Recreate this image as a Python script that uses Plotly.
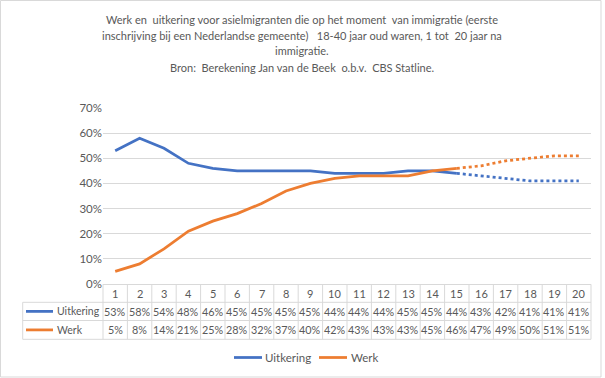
import plotly.graph_objects as go

# ---- data ----
years = list(range(1, 21))
uitkering = [53, 58, 54, 48, 46, 45, 45, 45, 45, 44, 44, 44, 45, 45, 44, 43, 42, 41, 41, 41]
werk = [5, 8, 14, 21, 25, 28, 32, 37, 40, 42, 43, 43, 43, 45, 46, 47, 49, 50, 51, 51]
last_observed = 15  # solid up to here, dotted afterwards
y_ticks = [0, 10, 20, 30, 40, 50, 60, 70]
y_tick_labels = [f"{v}%" for v in y_ticks]

title_lines = [
    "Werk en  uitkering voor asielmigranten die op het moment  van immigratie (eerste",
    "inschrijving bij een Nederlandse gemeente)   18-40 jaar oud waren, 1 tot  20 jaar na",
    "immigratie.",
    "Bron:  Berekening Jan van de Beek  o.b.v.  CBS Statline.",
]

# ---- style ----
W, H = 605, 378
ML, MR, MT, MB = 103, 14, 108, 94
PW, PH = W - ML - MR, H - MT - MB
BLUE, ORANGE = "#4472C4", "#ED7D31"
GRID, TXT = "#D9D9D9", "#595959"
FONT = "Lato, Liberation Sans, Arial, sans-serif"

def py(p):  # pixel y -> paper y
    return (H - MB - p) / PH

def px(p):  # pixel x -> paper x
    return (p - ML) / PW

n = len(years)

def cat_paper(k):  # boundary between categories, in paper coords
    return k / n

fig = go.Figure()
series = [("Uitkering", uitkering, BLUE), ("Werk", werk, ORANGE)]
for name, vals, col in series:
    i = years.index(last_observed)
    fig.add_trace(go.Scatter(x=years[: i + 1], y=vals[: i + 1], mode="lines", name=name,
                             line=dict(color=col, width=2.75), hoverinfo="skip"))
    fig.add_trace(go.Scatter(x=years[i:], y=vals[i:], mode="lines", name=name,
                             line=dict(color=col, width=2.75, dash="dot"), hoverinfo="skip"))

shapes = []
# outer chart border
shapes.append(dict(type="rect", xref="paper", yref="paper", x0=px(0.5), x1=px(601), y0=py(377), y1=py(0.5),
                   line=dict(color=GRID, width=1)))
# data table grid
t_top, r1, r2, t_bot = py(284.3), py(302.3), py(320.5), py(339.3)
left = px(22.7)
for k in range(n + 1):
    shapes.append(dict(type="line", xref="paper", yref="paper", x0=cat_paper(k), x1=cat_paper(k),
                       y0=t_top, y1=t_bot, line=dict(color=GRID, width=1)))
for yy in (r1, r2, t_bot):
    shapes.append(dict(type="line", xref="paper", yref="paper", x0=left, x1=1, y0=yy, y1=yy,
                       line=dict(color=GRID, width=1)))
shapes.append(dict(type="line", xref="paper", yref="paper", x0=left, x1=left, y0=r1, y1=t_bot,
                   line=dict(color=GRID, width=1)))

annotations = []
for j, line in enumerate(title_lines):
    annotations.append(dict(text=line, xref="paper", yref="paper", x=px(302), y=py(19 + 16 * j),
                            xanchor="center", yanchor="middle", showarrow=False,
                            font=dict(family=FONT, size=11, color=TXT)))
row_centers = [(t_top + r1) / 2, (r1 + r2) / 2, (r2 + t_bot) / 2]
for yv in years:
    annotations.append(dict(text=str(yv), xref="x", yref="paper", x=yv, y=row_centers[0],
                            showarrow=False, xanchor="center", yanchor="middle",
                            font=dict(family=FONT, size=11, color=TXT)))
for (name, vals, col), rc in zip(series, row_centers[1:]):
    for yv, v in zip(years, vals):
        annotations.append(dict(text=f"{v}%", xref="x", yref="paper", x=yv, y=rc,
                                showarrow=False, xanchor="center", yanchor="middle",
                                font=dict(family=FONT, size=10.8, color=TXT)))
    shapes.append(dict(type="line", xref="paper", yref="paper", x0=px(26), x1=px(53), y0=rc, y1=rc,
                       line=dict(color=col, width=2.75)))
    annotations.append(dict(text=name, xref="paper", yref="paper", x=px(55), y=rc, showarrow=False,
                            xanchor="left", yanchor="middle",
                            font=dict(family=FONT, size=10.5, color=TXT)))

# legend drawn below the table
legend_y = py(357.5)
legend_items = [("Uitkering", BLUE, 234, 263), ("Werk", ORANGE, 319, 349)]
for name, col, kx, tx in legend_items:
    shapes.append(dict(type="line", xref="paper", yref="paper", x0=px(kx), x1=px(kx + 28),
                       y0=legend_y, y1=legend_y, line=dict(color=col, width=2.75)))
    annotations.append(dict(text=name, xref="paper", yref="paper", x=px(tx), y=legend_y,
                            showarrow=False, xanchor="left", yanchor="middle",
                            font=dict(family=FONT, size=11.5, color=TXT)))

fig.update_layout(
    width=W, height=H,
    margin=dict(l=ML, r=MR, t=MT, b=MB),
    paper_bgcolor="white", plot_bgcolor="white",
    font=dict(family=FONT, size=11, color=TXT),
    showlegend=False,
    shapes=shapes, annotations=annotations,
)
fig.update_xaxes(range=[0.5, n + 0.5], showticklabels=False, showgrid=False, zeroline=False,
                 showline=True, linecolor=GRID, linewidth=1, ticks="")
fig.update_yaxes(range=[0, 70], tickmode="array", tickvals=y_ticks, ticktext=y_tick_labels,
                 showgrid=True, gridcolor=GRID, gridwidth=1, zeroline=False, showline=False, ticks="",
                 tickfont=dict(family=FONT, size=11.5, color=TXT))

fig.write_html("out.html", config={"displayModeBar": False},
               post_script="document.body.style.margin='0';")
